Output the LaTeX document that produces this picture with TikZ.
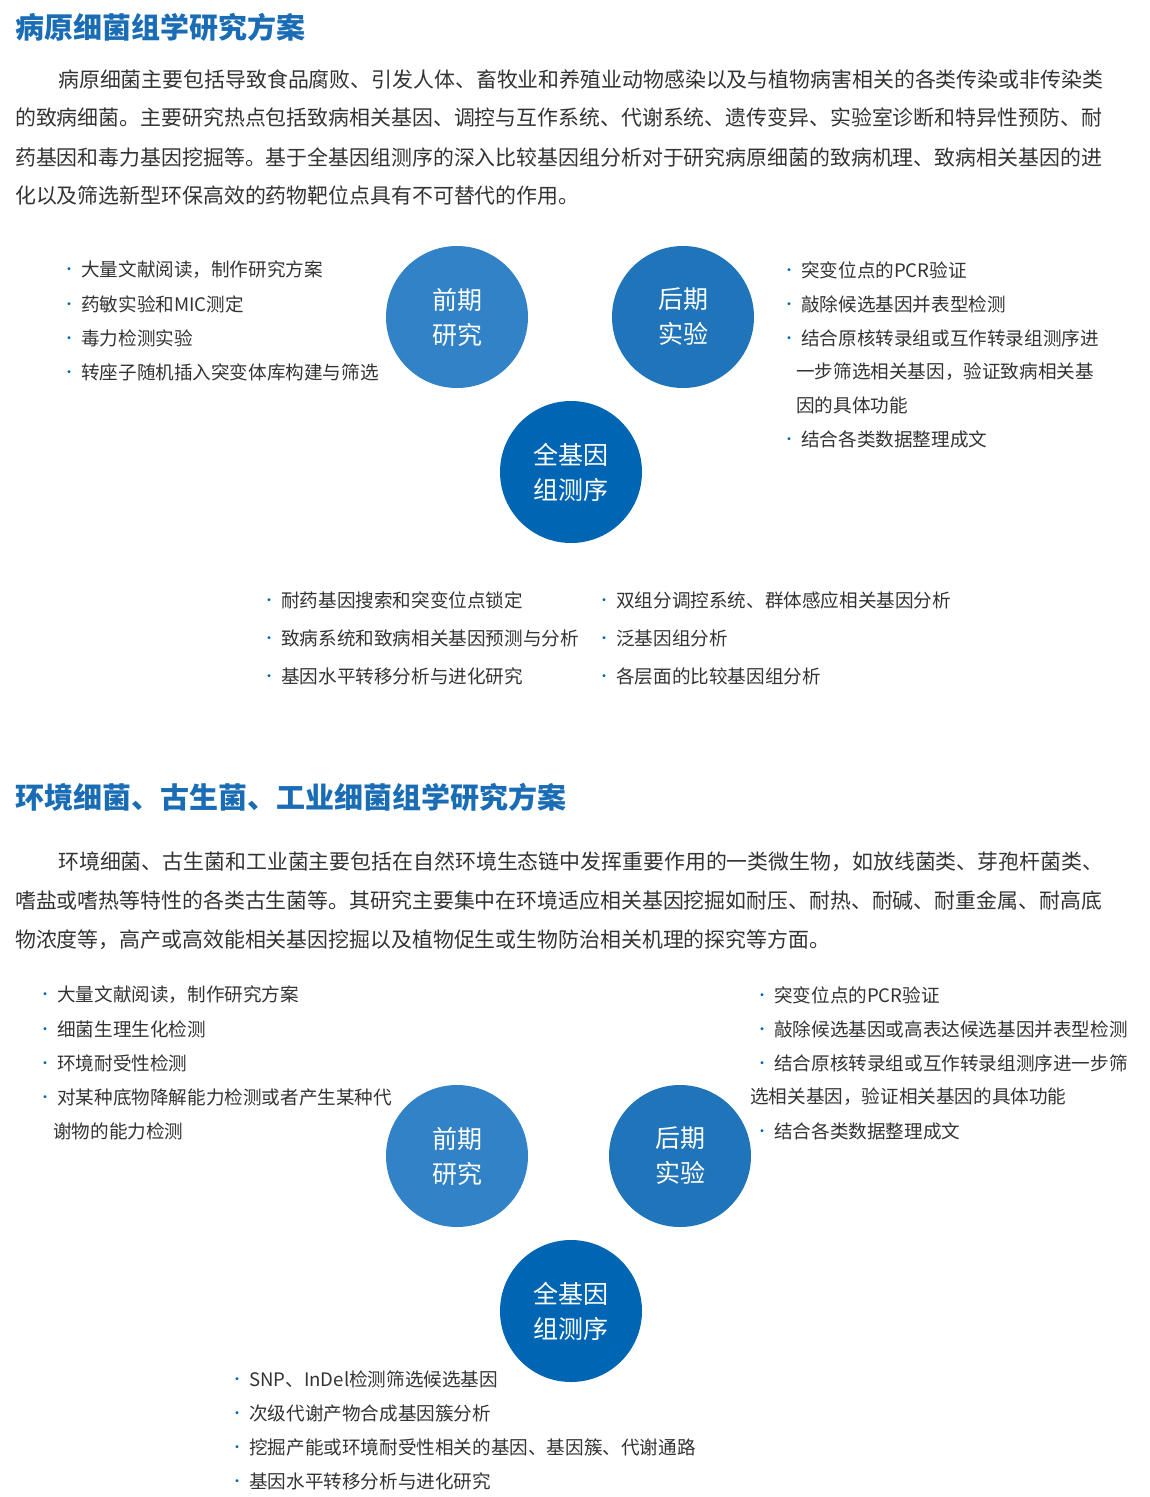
\documentclass[tikz,border=0pt]{standalone}
\usepackage{fontspec}
\setmainfont{Noto Sans CJK SC}
\newfontfamily\cjksans{Noto Sans CJK SC}
\definecolor{titleblue}{HTML}{1A6DB5}
\definecolor{cleft}{HTML}{3182C6}
\definecolor{cright}{HTML}{2074BA}
\definecolor{cbottom}{HTML}{0066B3}
\definecolor{bodytext}{HTML}{333333}
\tikzset{
  heading/.style={anchor=west,inner sep=0pt,text=titleblue,font=\fontsize{29}{33}\selectfont\bfseries},
  bodyline/.style={anchor=west,inner sep=0pt,text=bodytext,font=\fontsize{20.9}{25}\selectfont},
  item/.style={anchor=west,inner sep=0pt,text=bodytext,font=\fontsize{18.6}{22}\selectfont},
  phase/.style={circle,minimum size=142pt,inner sep=0pt,text=white,align=center,
    font=\cjksans\fontsize{25}{35}\selectfont},
}
\newcommand{\dotmark}{\raisebox{2pt}{\textcolor{cbottom}{\fontsize{14}{14}\selectfont•}}\hspace{5pt}}
\begin{document}
\begin{tikzpicture}[x=1pt,y=-1pt]
  \useasboundingbox (0,0) rectangle (1149,1497);
  % --- first scheme ---
  \node[heading] (titleA) at (15,27) {病原细菌组学研究方案};
  \node[bodyline] (parA1) at (58,80) {病原细菌主要包括导致食品腐败、引发人体、畜牧业和养殖业动物感染以及与植物病害相关的各类传染或非传染类};
  \node[bodyline] (parA2) at (15,118) {的致病细菌。主要研究热点包括致病相关基因、调控与互作系统、代谢系统、遗传变异、实验室诊断和特异性预防、耐};
  \node[bodyline] (parA3) at (15,157) {药基因和毒力基因挖掘等。基于全基因组测序的深入比较基因组分析对于研究病原细菌的致病机理、致病相关基因的进};
  \node[bodyline] (parA4) at (15,196) {化以及筛选新型环保高效的药物靶位点具有不可替代的作用。};

  \node[phase,fill=cleft] (preA) at (457,317) {前期\\研究};
  \node[phase,fill=cright] (postA) at (683,317) {后期\\实验};
  \node[phase,fill=cbottom] (wgsA) at (571,472) {全基因\\组测序};

  \foreach \y/\t in {270/大量文献阅读，制作研究方案, 304/药敏实验和MIC测定,
                     338/毒力检测实验, 372/转座子随机插入突变体库构建与筛选}
    \node[item] at (62,\y) {\dotmark\t};
  \foreach \y/\t in {270/突变位点的PCR验证, 304/敲除候选基因并表型检测,
                     338/结合原核转录组或互作转录组测序进, 439/结合各类数据整理成文}
    \node[item] at (782,\y) {\dotmark\t};
  \node[item] at (796,372) {一步筛选相关基因，验证致病相关基};
  \node[item] at (796,405) {因的具体功能};
  \foreach \y/\t in {600/耐药基因搜索和突变位点锁定, 638/致病系统和致病相关基因预测与分析,
                     676/基因水平转移分析与进化研究}
    \node[item] at (262,\y) {\dotmark\t};
  \foreach \y/\t in {600/双组分调控系统、群体感应相关基因分析, 638/泛基因组分析,
                     676/各层面的比较基因组分析}
    \node[item] at (597,\y) {\dotmark\t};

  % --- second scheme ---
  \node[heading] (titleB) at (15,797) {环境细菌、古生菌、工业细菌组学研究方案};
  \node[bodyline] (parB1) at (58,862) {环境细菌、古生菌和工业菌主要包括在自然环境生态链中发挥重要作用的一类微生物，如放线菌类、芽孢杆菌类、};
  \node[bodyline] (parB2) at (15,901) {嗜盐或嗜热等特性的各类古生菌等。其研究主要集中在环境适应相关基因挖掘如耐压、耐热、耐碱、耐重金属、耐高底};
  \node[bodyline] (parB3) at (15,940) {物浓度等，高产或高效能相关基因挖掘以及植物促生或生物防治相关机理的探究等方面。};

  \node[phase,fill=cleft] (preB) at (457,1156) {前期\\研究};
  \node[phase,fill=cright] (postB) at (680,1156) {后期\\实验};
  \node[phase,fill=cbottom] (wgsB) at (571,1311) {全基因\\组测序};

  \foreach \y/\t in {995/大量文献阅读，制作研究方案, 1029/细菌生理生化检测,
                     1063/环境耐受性检测, 1097/对某种底物降解能力检测或者产生某种代}
    \node[item] at (38,\y) {\dotmark\t};
  \node[item] at (53,1131) {谢物的能力检测};
  \foreach \y/\t in {995/突变位点的PCR验证, 1029/敲除候选基因或高表达候选基因并表型检测,
                     1063/结合原核转录组或互作转录组测序进一步筛, 1131/结合各类数据整理成文}
    \node[item] at (755,\y) {\dotmark\t};
  \node[item] at (750,1097) {选相关基因，验证相关基因的具体功能};
  \foreach \y/\t in {1379/SNP、InDel检测筛选候选基因, 1413/次级代谢产物合成基因簇分析,
                     1447/挖掘产能或环境耐受性相关的基因、基因簇、代谢通路, 1481/基因水平转移分析与进化研究}
    \node[item] at (230,\y) {\dotmark\t};
\end{tikzpicture}
\end{document}
